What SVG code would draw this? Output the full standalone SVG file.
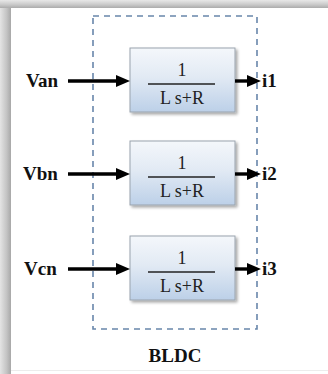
<svg xmlns="http://www.w3.org/2000/svg" width="328" height="374" viewBox="0 0 328 374">
  <style>
    .lbl { font-family: "Liberation Serif", "Times New Roman", serif; font-weight: bold; font-size: 19px; fill: #111; }
    .frac { font-family: "Liberation Serif", "Times New Roman", serif; font-size: 18px; fill: #222; text-anchor: middle; }
    .blk { fill: url(#blkFill); stroke: #9aa3ad; stroke-width: 1; filter: url(#shadow); }
    .bar { stroke: #222; stroke-width: 1.6; }
    .wire { stroke: #000; stroke-width: 3.4; fill: none; }
    .tip { fill: #000; }
    .group { fill: none; stroke: #6886ab; stroke-width: 1.6; stroke-dasharray: 6 5; }
  </style>
  <defs>
    <linearGradient id="blkFill" x1="0" y1="0" x2="0" y2="1">
      <stop offset="0" stop-color="#f4f7fb"/>
      <stop offset="0.45" stop-color="#e2eaf4"/>
      <stop offset="1" stop-color="#bcd0e8"/>
    </linearGradient>
    <linearGradient id="leftEdge" x1="0" y1="0" x2="1" y2="0">
      <stop offset="0" stop-color="#e4e4e4"/>
      <stop offset="0.6" stop-color="#c4c4c4"/>
      <stop offset="1" stop-color="#a8a8a8"/>
    </linearGradient>
    <linearGradient id="topEdge" x1="0" y1="0" x2="0" y2="1">
      <stop offset="0" stop-color="#e8e8e8"/>
      <stop offset="0.6" stop-color="#c8c8c8"/>
      <stop offset="1" stop-color="#ababab"/>
    </linearGradient>
    <filter id="shadow" x="-10%" y="-10%" width="125%" height="130%">
      <feGaussianBlur in="SourceAlpha" stdDeviation="1.5"/>
      <feOffset dx="1.5" dy="2" result="b"/>
      <feComponentTransfer><feFuncA type="linear" slope="0.35"/></feComponentTransfer>
      <feMerge><feMergeNode/><feMergeNode in="SourceGraphic"/></feMerge>
    </filter>
    <!-- arrowhead, tip at origin pointing right -->
    <path id="arrowTip" d="M0,0 L-14,-6 L-14,6 Z"/>
  </defs>

  <!-- page panel with grey frame -->
  <rect x="0" y="0" width="328" height="374" fill="#ffffff"/>
  <rect x="0" y="0" width="11" height="374" fill="url(#leftEdge)"/>
  <rect x="0" y="0" width="328" height="8" fill="url(#topEdge)"/>
  <line x1="11" y1="370.5" x2="328" y2="370.5" stroke="#ececec" stroke-width="1"/>

  <!-- subsystem boundary -->
  <g id="bldc">
    <rect class="group" x="93" y="16" width="164" height="313"/>
    <text class="lbl" x="175" y="362" text-anchor="middle">BLDC</text>
  </g>

  <!-- transfer function blocks -->
  <g id="tf1">
    <rect class="blk" x="130" y="48" width="105" height="64"/>
    <text class="frac" x="182" y="76">1</text>
    <line class="bar" x1="148" y1="84" x2="215" y2="84"/>
    <text class="frac" x="182" y="104">L s+R</text>
  </g>
  <g id="tf2">
    <rect class="blk" x="130" y="141" width="105" height="64"/>
    <text class="frac" x="182" y="169">1</text>
    <line class="bar" x1="148" y1="177" x2="215" y2="177"/>
    <text class="frac" x="182" y="197">L s+R</text>
  </g>
  <g id="tf3">
    <rect class="blk" x="130" y="236" width="105" height="64"/>
    <text class="frac" x="182" y="264">1</text>
    <line class="bar" x1="148" y1="272" x2="215" y2="272"/>
    <text class="frac" x="182" y="292">L s+R</text>
  </g>

  <!-- port labels -->
  <g id="van"><text class="lbl" x="26" y="87">Van</text></g>
  <g id="vbn"><text class="lbl" x="23" y="180">Vbn</text></g>
  <g id="vcn"><text class="lbl" x="24" y="275">Vcn</text></g>
  <g id="i1"><text class="lbl" x="262" y="87">i1</text></g>
  <g id="i2"><text class="lbl" x="262" y="180">i2</text></g>
  <g id="i3"><text class="lbl" x="262" y="275">i3</text></g>

  <!-- signal lines -->
  <g id="connectors">
    <line class="wire" x1="68" y1="81" x2="120" y2="81"/>
    <use href="#arrowTip" class="tip" x="130" y="81"/>
    <line class="wire" x1="68" y1="174" x2="120" y2="174"/>
    <use href="#arrowTip" class="tip" x="130" y="174"/>
    <line class="wire" x1="68" y1="269" x2="120" y2="269"/>
    <use href="#arrowTip" class="tip" x="130" y="269"/>
    <line class="wire" x1="235" y1="81" x2="251" y2="81"/>
    <use href="#arrowTip" class="tip" x="261" y="81"/>
    <line class="wire" x1="235" y1="174" x2="251" y2="174"/>
    <use href="#arrowTip" class="tip" x="261" y="174"/>
    <line class="wire" x1="235" y1="269" x2="251" y2="269"/>
    <use href="#arrowTip" class="tip" x="261" y="269"/>
  </g>
</svg>
